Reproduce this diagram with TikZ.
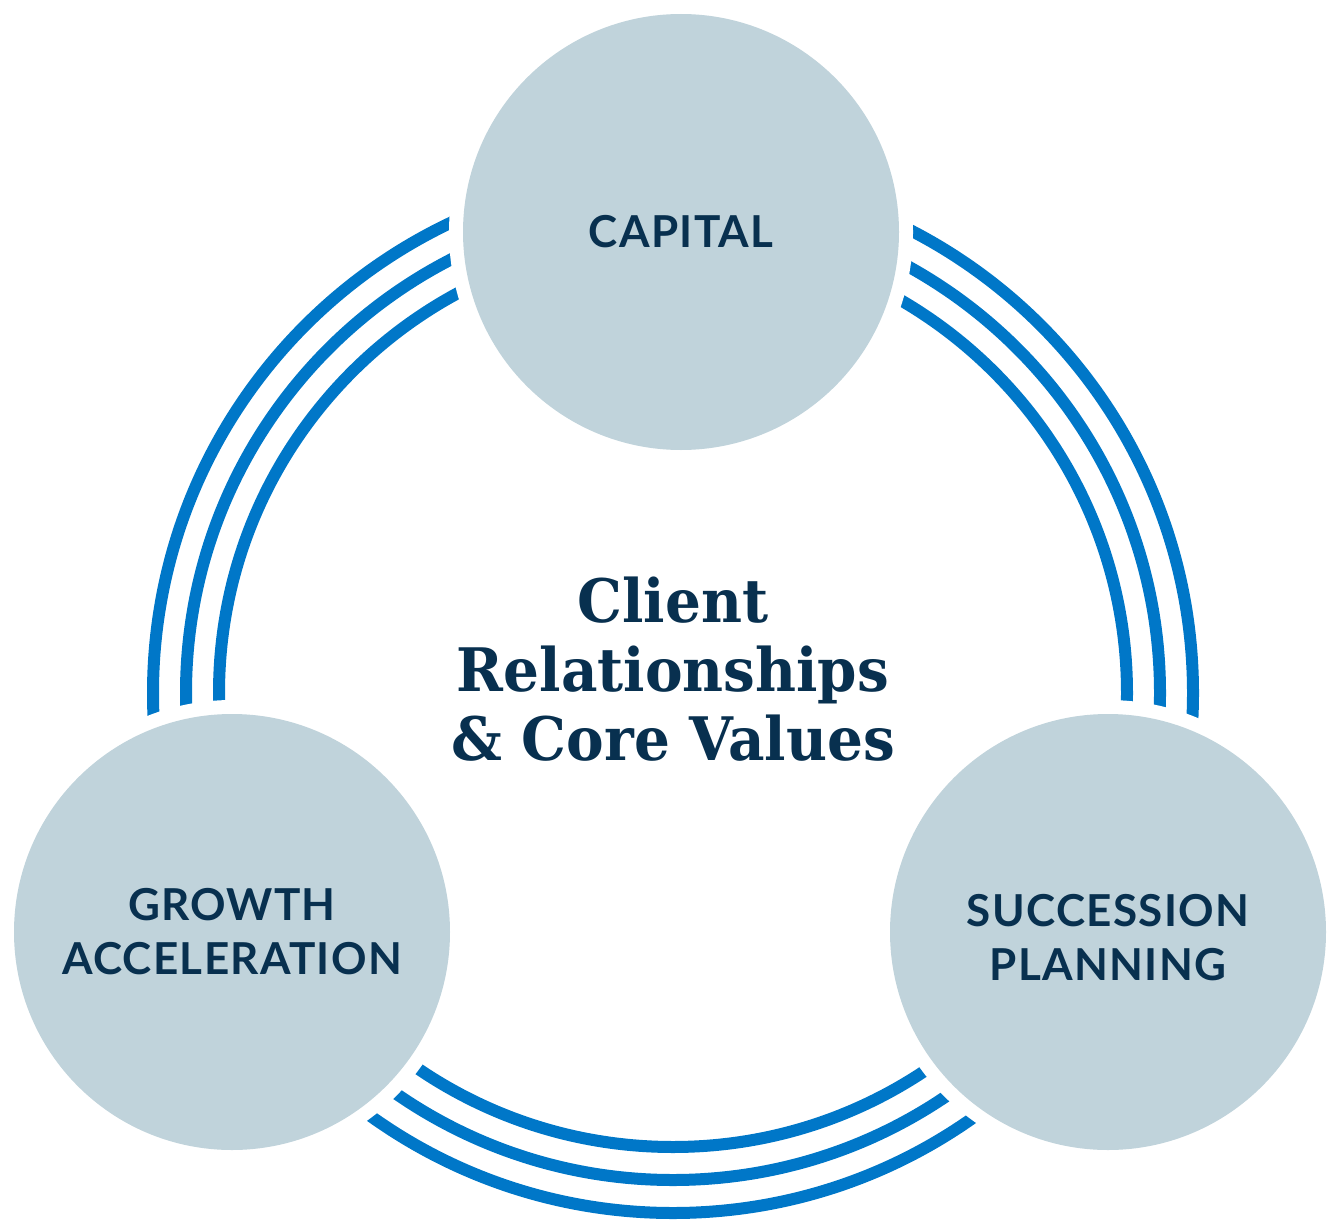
\documentclass[tikz,border=0pt]{standalone}
\usepackage{fontspec}
\newfontfamily\labelfont{Lato}[LetterSpace=3]
\newfontfamily\titlefont{DejaVu Serif}[FakeStretch=0.94]

\definecolor{ringblue}{HTML}{0077C8}
\definecolor{discgray}{HTML}{C0D3DB}
\definecolor{inkblue}{HTML}{08304F}

\tikzset{
  disc/.style={circle, fill=discgray, minimum size=436pt, inner sep=0pt,
    text=inkblue, align=center, font=\labelfont\bfseries\fontsize{44}{54}\selectfont},
  ringline/.style={ringblue, line width=12pt},
  heading/.style={text=inkblue, align=center, font=\titlefont\bfseries\fontsize{60}{69}\selectfont}
}

\begin{document}
\begin{tikzpicture}[x=1pt, y=-1pt]
    \useasboundingbox (0,0) rectangle (1341,1220);

    \coordinate (ring) at (673,693);
    \coordinate (topc) at (681,232);
    \coordinate (leftc) at (232,932);
    \coordinate (rightc) at (1108,932);

    % three rings, cut open round each disc
    \foreach \r in {454,487,520}
        \draw[ringline] (ring) circle (\r pt);
    \foreach \c in {topc,leftc,rightc}
        \fill[white] (\c) circle (232pt);

    \node[disc] (capital) at (topc) {CAPITAL};
    \node[disc] (growth) at (leftc) {GROWTH\\ACCELERATION};
    \node[disc] (succession) at (rightc) {\\[-10pt]SUCCESSION\\PLANNING};

    \node[heading] (core) at (673,669) {Client\\Relationships\\\& Core Values};
\end{tikzpicture}
\end{document}
